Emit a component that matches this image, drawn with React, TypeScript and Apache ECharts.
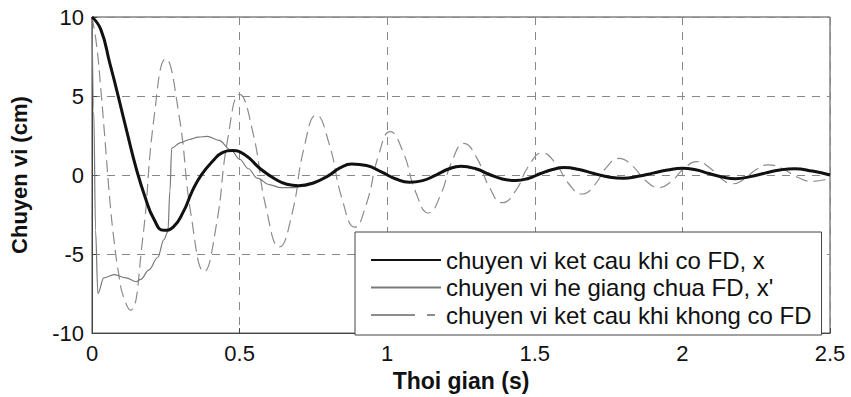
import React, { useEffect, useRef } from "react";
import * as echarts from "echarts";

const xTicks = [0, 0.5, 1, 1.5, 2, 2.5];
const yTicks = [-10, -5, 0, 5, 10];

const seriesNames = [
  "chuyen vi ket cau khi co FD, x",
  "chuyen vi he giang chua FD, x'",
  "chuyen vi ket cau khi khong co FD",
];

// structure displacement with friction damper (thick black)
const tX = [0, 0.03, 0.06, 0.09, 0.12, 0.15, 0.18, 0.21, 0.243, 0.275, 0.31, 0.34, 0.37, 0.41, 0.44, 0.477, 0.52, 0.57, 0.62, 0.66, 0.7, 0.75, 0.8, 0.84, 0.88, 0.93, 0.98, 1.03, 1.075, 1.12, 1.165, 1.21, 1.25, 1.3, 1.345, 1.39, 1.435, 1.48, 1.52, 1.56, 1.6, 1.65, 1.7, 1.75, 1.8, 1.85, 1.9, 1.95, 2.0, 2.045, 2.09, 2.135, 2.18, 2.23, 2.28, 2.33, 2.38, 2.44, 2.5];
const vX = [10, 9.2, 7.1, 4.9, 2.6, 0.4, -1.4, -2.8, -3.5, -3.3, -2.3, -1.0, 0.0, 0.9, 1.4, 1.55, 1.25, 0.4, -0.25, -0.58, -0.67, -0.5, -0.05, 0.45, 0.7, 0.6, 0.2, -0.25, -0.45, -0.35, 0.0, 0.4, 0.55, 0.4, 0.05, -0.25, -0.35, -0.2, 0.1, 0.35, 0.47, 0.35, 0.1, -0.12, -0.2, -0.08, 0.12, 0.32, 0.43, 0.33, 0.1, -0.12, -0.23, -0.1, 0.12, 0.32, 0.4, 0.25, 0.0];

// brace system displacement x' (thin grey), early part; later it follows x
const tXp = [0, 0.006, 0.012, 0.02, 0.04, 0.075, 0.115, 0.15, 0.165, 0.193, 0.223, 0.243, 0.257, 0.264, 0.27, 0.3, 0.33, 0.36, 0.39, 0.43, 0.47, 0.5, 0.53, 0.56, 0.6, 0.64, 0.68];
const vXp = [10, 4, -3.5, -7.5, -6.5, -6.3, -6.5, -6.75, -6.6, -6.0, -5.2, -4.1, -3.6, -1.0, 1.7, 2.05, 2.25, 2.4, 2.45, 2.2, 1.6, 1.0, 0.4, -0.2, -0.6, -0.8, -0.8];

// structure displacement without friction damper (dashed grey)
const tNoFD = [0, 0.015, 0.03, 0.045, 0.06, 0.075, 0.09, 0.105, 0.13, 0.17, 0.21, 0.25, 0.293, 0.337, 0.38, 0.42, 0.46, 0.5, 0.545, 0.59, 0.635, 0.677, 0.718, 0.76, 0.803, 0.847, 0.89, 0.93, 0.97, 1.01, 1.053, 1.097, 1.14, 1.18, 1.22, 1.26, 1.303, 1.347, 1.39, 1.435, 1.48, 1.525, 1.57, 1.615, 1.66, 1.702, 1.743, 1.785, 1.83, 1.875, 1.92, 1.963, 2.007, 2.05, 2.09, 2.13, 2.17, 2.21, 2.25, 2.29, 2.34, 2.39, 2.44, 2.5];
const vNoFD = [10, 8.3, 5.4, 2.0, -1.5, -4.2, -6.2, -7.6, -8.55, -4.3, 3.6, 7.35, 4.0, -2.7, -6.1, -3.3, 2.3, 5.1, 2.7, -2.1, -4.55, -2.5, 1.7, 3.8, 2.0, -1.5, -3.3, -1.8, 1.2, 2.75, 1.5, -1.1, -2.4, -1.3, 0.9, 2.0, 1.1, -0.8, -1.75, -1.0, 0.6, 1.4, 0.75, -0.55, -1.2, -0.64, 0.49, 1.05, 0.59, -0.34, -0.8, -0.39, 0.44, 0.85, 0.5, -0.2, -0.55, -0.25, 0.35, 0.65, 0.39, -0.14, -0.4, -0.2];

const FONT = "'Liberation Sans', Arial, sans-serif";

function pairs(t: number[], v: number[]) {
  return t.map((x, i) => [x, v[i]]);
}

export default function App() {
  const ref = useRef<HTMLDivElement>(null);
  useEffect(() => {
    const chart = echarts.init(ref.current!, null, { renderer: "svg" });
    const dataX = pairs(tX, vX);
    const dataXp = pairs(tXp, vXp).concat(
      pairs(tX, vX).filter((p) => p[0] >= 0.75)
    );
    const dataNoFD = pairs(tNoFD, vNoFD);
    const option = {
      animation: false,
      backgroundColor: "#fff",
      textStyle: { fontFamily: FONT },
      grid: {
        left: 92,
        right: 21,
        top: 17,
        bottom: 57,
        show: true,
        borderColor: "#444",
        borderWidth: 1,
      },
      xAxis: {
        type: "value",
        min: xTicks[0],
        max: xTicks[xTicks.length - 1],
        interval: 0.5,
        name: "Thoi gian (s)",
        nameLocation: "middle",
        nameGap: 24,
        nameTextStyle: { fontSize: 23, fontWeight: "bold", color: "#111", fontFamily: FONT },
        axisLine: { onZero: false, lineStyle: { color: "#444" } },
        axisTick: { inside: true, length: 5, lineStyle: { color: "#444" } },
        axisLabel: { fontSize: 22, color: "#111", margin: 9, fontFamily: FONT },
        splitLine: { show: true, lineStyle: { type: [8, 7], color: "#888", width: 1 } },
      },
      yAxis: {
        type: "value",
        min: yTicks[0],
        max: yTicks[yTicks.length - 1],
        interval: 5,
        name: "Chuyen vi (cm)",
        nameLocation: "middle",
        nameGap: 62,
        nameTextStyle: { fontSize: 22, fontWeight: "bold", color: "#111", fontFamily: FONT },
        axisLine: { show: true, onZero: false, lineStyle: { color: "#444" } },
        axisTick: { show: true, inside: true, length: 5, lineStyle: { color: "#444" } },
        axisLabel: { fontSize: 22, color: "#111", margin: 8, fontFamily: FONT },
        splitLine: { show: true, lineStyle: { type: [8, 7], color: "#888", width: 1 } },
      },
      legend: {
        orient: "vertical",
        left: 355,
        top: 232,
        padding: [16, 10, 8, 15],
        itemWidth: 70,
        itemHeight: 16,
        itemGap: 3.5,
        itemTextGap: 8,
        backgroundColor: "#fff",
        borderColor: "#444",
        borderWidth: 1,
        borderRadius: 0,
        itemStyle: { opacity: 0 },
        textStyle: { fontSize: 24, color: "#111", lineHeight: 22, fontFamily: FONT },
        data: [
          { name: seriesNames[0] },
          { name: seriesNames[1] },
          { name: seriesNames[2], lineStyle: { type: [44, 12, 8, 12] } },
        ],
      },
      series: [
        {
          name: seriesNames[2],
          type: "line",
          data: dataNoFD,
          symbol: "none",
          smooth: 0.5,
          z: 1,
          lineStyle: { color: "#8c8c8c", width: 1.2, type: [12, 6] },
          itemStyle: { color: "#8c8c8c" },
        },
        {
          name: seriesNames[1],
          type: "line",
          data: dataXp,
          symbol: "none",
          smooth: 0.35,
          smoothMonotone: "x",
          z: 2,
          lineStyle: { color: "#7a7a7a", width: 1.2 },
          itemStyle: { color: "#7a7a7a" },
        },
        {
          name: seriesNames[0],
          type: "line",
          data: dataX,
          symbol: "none",
          smooth: 0.5,
          z: 3,
          lineStyle: { color: "#111", width: 3 },
          itemStyle: { color: "#111" },
        },
      ],
    };
    chart.setOption(option as any);
    return () => chart.dispose();
  }, []);
  return (
    <div
      ref={ref}
      style={{ position: "absolute", left: 0, top: 0, width: 851, height: 397 }}
    />
  );
}
